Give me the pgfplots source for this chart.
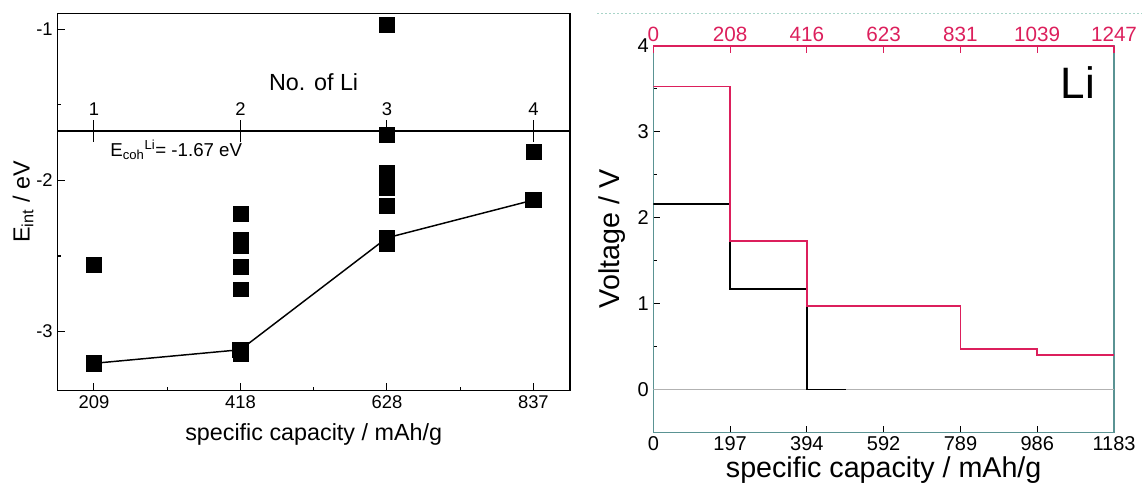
\documentclass[border=0pt]{standalone}
\usepackage{fontspec}
\setmainfont{Liberation Sans}
\usepackage{pgfplots}
\pgfplotsset{compat=1.18}
\definecolor{Crimson}{HTML}{DC1F5C}
\definecolor{Frame}{HTML}{5A9393}
\definecolor{Dots}{HTML}{A8D4C8}
\newcommand{\fs}[1]{\fontsize{#1}{#1}\selectfont}
\pgfplotsset{/pgf/number format/assume math mode=true}

\begin{document}
\begin{tikzpicture}
\useasboundingbox (0,0) rectangle (856.5pt,-366pt);
\draw[Dots, line width=0.8pt, dash pattern=on 1.5pt off 1.5pt] (448pt,-10pt) -- (856.5pt,-10pt);

% left panel: interaction energy
\begin{axis}[at={(43pt,-292.9pt)}, anchor=south west, scale only axis,
  width=384.5pt, height=282.75pt,
  xmin=0.75, xmax=4.25, ymin=-3.39, ymax=-0.896,
  xtick={1,2,3,4}, xticklabels={209,418,628,837},
  ytick={-3,-2,-1}, yticklabels={-3,-2,-1},
  minor xtick={1.5,2.5,3.5}, minor ytick={-2.5,-1.5},
  xtick pos=bottom, ytick pos=left, tick align=inside,
  major tick length=5.5pt, minor tick length=3pt,
  axis line style={line width=0.9pt},
  every tick/.style={black, line width=0.8pt},
  tick label style={font=\fs{13.8}},
  label style={font=\fs{17.5}},
  xlabel={specific capacity / mAh/g},
  ylabel={E\textsubscript{int} / eV},
  xlabel style={at={([yshift=-33pt]rel axis cs:0.5,0)}, anchor=center},
  ylabel style={at={([xshift=-25.7pt]rel axis cs:0,0.5)}, anchor=center}]
\addplot[only marks, mark=square*, mark size=5.6pt, black] coordinates {
  (1,-2.56)
  (2,-2.22) (2,-2.39) (2,-2.43) (2,-2.57) (2,-2.72) (2,-3.15)
  (3,-0.97) (3,-1.70) (3,-1.95) (3,-2.00) (3,-2.05) (3,-2.17) (3,-2.42)
  (4,-1.81)};
\addplot[black, line width=1.1pt, mark=square*, mark size=5.6pt] coordinates {
  (1,-3.21) (2,-3.12) (3,-2.38) (4,-2.13)};
\node[anchor=west, font=\fs{14}] at (axis cs:1.08,-1.80)
  {E\textsubscript{coh}\textsuperscript{Li}= -1.67 eV};
\end{axis}

% number of Li axis across the left panel
\begin{axis}[at={(43pt,-98.25pt)}, anchor=north west, scale only axis,
  width=384.5pt, height=20pt,
  xmin=0.75, xmax=4.25, ymin=0, ymax=1,
  axis x line*=top, axis y line=none,
  x axis line style={-, line width=0.9pt},
  xtick={1,2,3,4}, tick align=center, major tick length=16pt,
  every tick/.style={black, line width=0.8pt},
  tick label style={font=\fs{13.8}},
  xlabel={No. of Li}, label style={font=\fs{17.5}},
  xlabel style={at={([yshift=36.75pt]rel axis cs:0.5,1)}, anchor=center}]
\addplot[draw=none] coordinates {(1,0)};
\end{axis}

% right panel: voltage steps
\begin{axis}[at={(490pt,-324.2pt)}, anchor=south west, scale only axis,
  width=345.5pt, height=289.75pt,
  xmin=0, xmax=1183, ymin=-0.5, ymax=4,
  xtick={0,197.17,394.33,591.5,788.67,985.83,1183},
  xticklabels={0,197,394,592,789,986,1183},
  ytick={0,1,2,3,4}, minor x tick num=1, minor y tick num=1,
  xtick pos=bottom, ytick pos=left, tick align=inside,
  major tick length=5pt, minor tick length=3pt,
  axis line style={Frame, line width=0.9pt},
  every tick/.style={black, line width=0.8pt},
  tick label style={font=\fs{15}},
  label style={font=\fs{21.5}},
  xlabel={specific capacity / mAh/g}, ylabel={Voltage / V},
  xlabel style={at={([yshift=-28.3pt]rel axis cs:0.5,0)}, anchor=center},
  ylabel style={at={([xshift=-31pt]rel axis cs:0,0.5)}, anchor=center}]
\addplot[gray!60, line width=0.6pt] coordinates {(0,0) (1183,0)};
\addplot[black, line width=1.1pt] coordinates {
  (0,2.16) (197.17,2.16) (197.17,1.17) (394.33,1.17) (394.33,0) (495,0)};
\addplot[Crimson, line width=1.1pt] coordinates {
  (0,3.53) (197.17,3.53) (197.17,1.73) (394.33,1.73) (394.33,0.97)
  (788.67,0.97) (788.67,0.47) (985.83,0.47) (985.83,0.40) (1183,0.40)};
\node[font=\fs{33}] at (axis cs:1090,3.57) {Li};
\end{axis}

% top capacity scale of the right panel
\begin{axis}[at={(490pt,-324.2pt)}, anchor=south west, scale only axis,
  width=345.5pt, height=289.75pt,
  xmin=0, xmax=1247, ymin=0, ymax=1,
  axis x line*=top, axis y line=none,
  x axis line style={-, Crimson, line width=0.9pt},
  xtick={0,207.83,415.67,623.5,831.33,1039.17,1247},
  xticklabels={0,208,416,623,831,1039,1247},
  minor x tick num=1, tick align=inside,
  major tick length=5pt, minor tick length=3pt,
  every tick/.style={Crimson, line width=0.8pt},
  tick label style={font=\fs{15.5}, text=Crimson}]
\addplot[draw=none] coordinates {(0,0)};
\end{axis}
\end{tikzpicture}
\end{document}
